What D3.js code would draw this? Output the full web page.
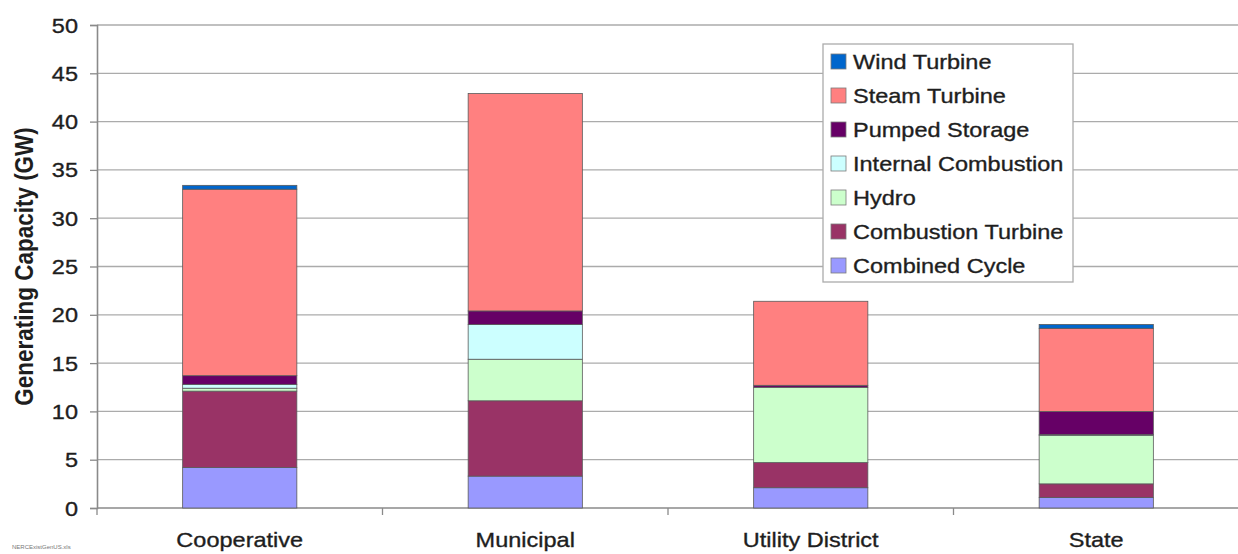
<!DOCTYPE html>
<html>
<head>
<meta charset="utf-8">
<script src="https://cdn.jsdelivr.net/npm/d3@7"></script>
<style>
  html, body { margin: 0; padding: 0; background: #fff; }
  svg { display: block; }
  text { font-family: "Liberation Sans", Arial, Helvetica, sans-serif; fill: #1e1e1e; }
  text.lbl { stroke: #1e1e1e; stroke-width: 0.35px; }
</style>
</head>
<body>
<svg id="chart" width="1238" height="554"></svg>
<script>
// Generating capacity by ownership type (GW), stacked by prime mover
const categories = ["Cooperative", "Municipal", "Utility District", "State"];

const combinedCycle      = [4.2, 3.3, 2.1, 1.1];
const combustionTurbine  = [7.9, 7.8, 2.6, 1.4];
const hydro              = [0.3, 4.3, 7.8, 5.0];
const internalCombustion = [0.4, 3.6, 0.0, 0.1];
const pumpedStorage      = [0.9, 1.4, 0.2, 2.4];
const steamTurbine       = [19.3, 22.5, 8.7, 8.6];
const windTurbine        = [0.4, 0.0, 0.0, 0.4];

const seriesNames  = ["Combined Cycle", "Combustion Turbine", "Hydro", "Internal Combustion",
                      "Pumped Storage", "Steam Turbine", "Wind Turbine"];
const seriesValues = [combinedCycle, combustionTurbine, hydro, internalCombustion,
                      pumpedStorage, steamTurbine, windTurbine];
const seriesColors = ["#9999ff", "#993366", "#ccffcc", "#ccffff", "#660066", "#ff8080", "#0066cc"];

const yTicks = [0, 5, 10, 15, 20, 25, 30, 35, 40, 45, 50];
const yTitle = "Generating Capacity (GW)";
const sourceNote = "NERCExistGenUS.xls";

// rows for d3.stack
const rows = categories.map((c, i) => {
  const r = { category: c };
  seriesNames.forEach((s, k) => { r[s] = seriesValues[k][i]; });
  return r;
});

const svg = d3.select("#chart");
const plotLeft = 97, plotRight = 1239, plotTop = 25, plotBottom = 508;
const sx = 1.12; // horizontal text stretch

const x = d3.scaleBand().domain(categories).range([plotLeft, plotRight]).paddingInner(0.6).paddingOuter(0.3);
const y = d3.scaleLinear().domain([0, 50]).range([plotBottom, plotTop]);

// gridlines
svg.append("g").selectAll("line").data(yTicks.filter(t => t > 0)).join("line")
  .attr("x1", plotLeft).attr("x2", plotRight)
  .attr("y1", d => y(d)).attr("y2", d => y(d))
  .attr("stroke", "#ababab").attr("stroke-width", 1.3);

// y axis
const yAxis = svg.append("g").attr("transform", `translate(${plotLeft},0)`)
  .call(d3.axisLeft(y).tickValues(yTicks).tickSize(7).tickPadding(0).tickFormat(() => ""));
yAxis.select(".domain").attr("stroke", "#8a8a8a").attr("stroke-width", 1.6);
yAxis.selectAll(".tick line").attr("stroke", "#8a8a8a").attr("stroke-width", 1.3);

// y tick labels
svg.append("g").selectAll("text").data(yTicks).join("text")
  .attr("class", "lbl")
  .attr("transform", d => `translate(78,${y(d)}) scale(${sx},1)`)
  .attr("text-anchor", "end").attr("dy", "0.36em")
  .style("font-size", "21px").text(d => d);

// x axis
const xBoundaries = d3.range(categories.length + 1).map(i => plotLeft + i * x.step());
svg.append("line").attr("x1", plotLeft).attr("x2", plotRight).attr("y1", plotBottom).attr("y2", plotBottom)
  .attr("stroke", "#8a8a8a").attr("stroke-width", 1.6);
svg.append("g").selectAll("line").data(xBoundaries).join("line")
  .attr("x1", d => d).attr("x2", d => d).attr("y1", plotBottom).attr("y2", plotBottom + 7)
  .attr("stroke", "#8a8a8a").attr("stroke-width", 1.3);

// stacked bars
const stacked = d3.stack().keys(seriesNames)(rows);
svg.append("g").selectAll("g").data(stacked).join("g")
  .attr("fill", (d, i) => seriesColors[i])
  .selectAll("rect").data(d => d.filter(p => p[1] - p[0] > 0)).join("rect")
  .attr("x", d => x(d.data.category))
  .attr("width", x.bandwidth())
  .attr("y", d => y(d[1]))
  .attr("height", d => y(d[0]) - y(d[1]))
  .attr("stroke", "#5a5a5a").attr("stroke-width", 0.8);

// category labels
svg.append("g").selectAll("text").data(categories).join("text")
  .attr("class", "lbl")
  .attr("transform", d => `translate(${x(d) + x.bandwidth() / 2},547) scale(${sx},1)`)
  .attr("text-anchor", "middle")
  .style("font-size", "21px").text(d => d);

// y axis title
svg.append("text")
  .attr("transform", `translate(33,${(plotTop + plotBottom) / 2}) scale(${sx},1) rotate(-90)`)
  .attr("text-anchor", "middle")
  .style("font-size", "22.5px").style("font-weight", "bold").text(yTitle);

// legend
const legend = svg.append("g");
legend.append("rect").attr("x", 823).attr("y", 44).attr("width", 250).attr("height", 238)
  .attr("fill", "#fff").attr("stroke", "#ababab").attr("stroke-width", 1.3);
const legendOrder = d3.range(seriesNames.length).reverse();
const item = legend.selectAll("g.item").data(legendOrder).join("g")
  .attr("class", "item")
  .attr("transform", (d, i) => `translate(831,${61 + i * 34})`);
item.append("rect").attr("x", 0).attr("y", -7).attr("width", 15).attr("height", 15)
  .attr("fill", d => seriesColors[d]).attr("stroke", "#7a7a7a").attr("stroke-width", 0.8);
item.append("text")
  .attr("class", "lbl")
  .attr("transform", `translate(22,0) scale(${sx},1)`)
  .attr("dy", "0.36em").style("font-size", "21px")
  .text(d => seriesNames[d]);

// source note
svg.append("text").attr("x", 12).attr("y", 549)
  .style("font-size", "6px").style("fill", "#777").text(sourceNote);
</script>
</body>
</html>
